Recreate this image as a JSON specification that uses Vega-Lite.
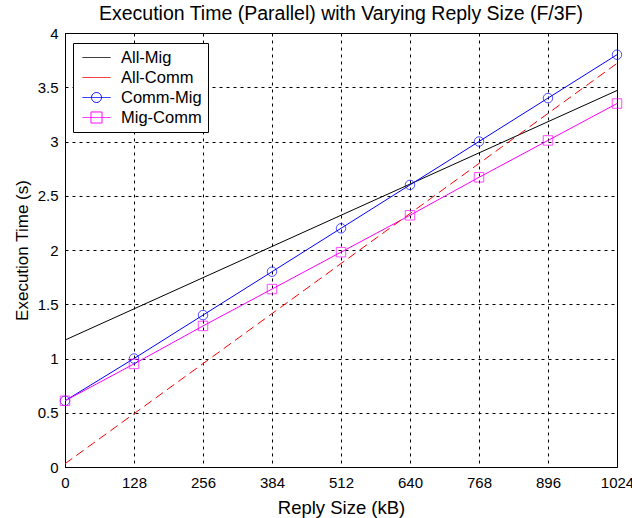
{
  "$schema": "https://vega.github.io/schema/vega-lite/v6.json",
  "width": 552,
  "height": 434,
  "autosize": "none",
  "padding": {"left": 65, "top": 33, "right": 15, "bottom": 51},
  "background": "white",
  "title": {"text": "Execution Time (Parallel) with Varying Reply Size (F/3F)", "fontSize": 19.5, "font": "Liberation Sans", "fontWeight": "normal", "color": "black", "offset": 2},
  "config": {
    "view": {"stroke": "black", "strokeWidth": 1},
    "axis": {"labelFont": "Liberation Sans", "titleFont": "Liberation Sans", "labelFontSize": 15, "titleFontSize": 18.5, "titleFontWeight": "normal", "labelColor": "black", "titleColor": "black", "grid": true, "gridColor": "black", "gridDash": [3, 4], "gridOpacity": 1, "gridWidth": 1, "ticks": false, "domainColor": "black"},
    "legend": {"labelFont": "Liberation Sans"}
  },
  "data": {"values": [
    {"series": "All-Mig", "size": 0, "time": 1.17},
    {"series": "All-Mig", "size": 1024, "time": 3.47},
    {"series": "All-Comm", "size": 0, "time": 0.03},
    {"series": "All-Comm", "size": 1024, "time": 3.72},
    {"series": "Comm-Mig", "size": 0, "time": 0.61},
    {"series": "Comm-Mig", "size": 128, "time": 1.0},
    {"series": "Comm-Mig", "size": 256, "time": 1.4},
    {"series": "Comm-Mig", "size": 384, "time": 1.8},
    {"series": "Comm-Mig", "size": 512, "time": 2.2},
    {"series": "Comm-Mig", "size": 640, "time": 2.6},
    {"series": "Comm-Mig", "size": 768, "time": 3.0},
    {"series": "Comm-Mig", "size": 896, "time": 3.4},
    {"series": "Comm-Mig", "size": 1024, "time": 3.8},
    {"series": "Mig-Comm", "size": 0, "time": 0.61},
    {"series": "Mig-Comm", "size": 128, "time": 0.95},
    {"series": "Mig-Comm", "size": 256, "time": 1.3},
    {"series": "Mig-Comm", "size": 384, "time": 1.64},
    {"series": "Mig-Comm", "size": 512, "time": 1.98},
    {"series": "Mig-Comm", "size": 640, "time": 2.32},
    {"series": "Mig-Comm", "size": 768, "time": 2.67},
    {"series": "Mig-Comm", "size": 896, "time": 3.01},
    {"series": "Mig-Comm", "size": 1024, "time": 3.35}
  ]},
  "encoding": {
    "x": {"field": "size", "type": "quantitative", "title": "Reply Size (kB)", "scale": {"domain": [0, 1024], "nice": false, "zero": false}, "axis": {"values": [0, 128, 256, 384, 512, 640, 768, 896, 1024], "format": "d", "labelPadding": 8, "titlePadding": 8, "labelFlush": false}},
    "y": {"field": "time", "type": "quantitative", "title": "Execution Time (s)", "scale": {"domain": [0, 4], "nice": false}, "axis": {"values": [0, 0.5, 1, 1.5, 2, 2.5, 3, 3.5, 4], "format": "~g", "labelPadding": 7, "titlePadding": 6, "titleFontSize": 17}},
    "color": {"field": "series", "type": "nominal", "scale": {"domain": ["All-Mig", "All-Comm", "Comm-Mig", "Mig-Comm"], "range": ["#000000", "#ff0000", "#0000ff", "#ff00ff"]}}
  },
  "layer": [
    {
      "transform": [{"filter": "datum.series !== 'All-Comm'"}],
      "mark": {"type": "line", "strokeWidth": 1, "clip": false},
      "encoding": {
        "color": {"field": "series", "type": "nominal", "scale": {"domain": ["All-Mig", "All-Comm", "Comm-Mig", "Mig-Comm"], "range": ["#000000", "#ff0000", "#0000ff", "#ff00ff"]},
          "legend": {"title": null, "orient": "none", "legendX": 8, "legendY": 10, "strokeColor": "black", "fillColor": "white", "padding": 6, "symbolSize": 256, "symbolOffset": 9, "labelOffset": 16, "rowPadding": 3, "labelFontSize": 16.5, "labelColor": "black", "symbolStrokeWidth": 1, "symbolFillColor": "transparent", "symbolDash": [1, 0],
            "encode": {"symbols": {"update": {"shape": {"signal": "datum.value === 'Comm-Mig' ? 'M-1.75,0L1.75,0M-0.625,0A0.625,0.625 0 1,0 0.625,0A0.625,0.625 0 1,0 -0.625,0' : datum.value === 'Mig-Comm' ? 'M-1.75,0L1.75,0M-0.69,-0.69L0.69,-0.69L0.69,0.69L-0.69,0.69Z' : 'M-1.75,0L1.75,0'"}, "fill": {"value": "transparent"}, "stroke": {"scale": "color", "field": "value"}}}}}}
      }
    },
    {
      "transform": [{"filter": "datum.series === 'All-Comm'"}],
      "mark": {"type": "line", "strokeWidth": 1, "strokeDash": [9, 5], "clip": false},
      "encoding": {}
    },
    {
      "transform": [{"filter": "datum.series === 'Comm-Mig' || datum.series === 'Mig-Comm'"}],
      "mark": {"type": "point", "filled": false, "strokeWidth": 1, "size": 90, "clip": false},
      "encoding": {
        "shape": {"field": "series", "type": "nominal", "scale": {"domain": ["Comm-Mig", "Mig-Comm"], "range": ["circle", "square"]}, "legend": null}
      }
    }
  ]
}
